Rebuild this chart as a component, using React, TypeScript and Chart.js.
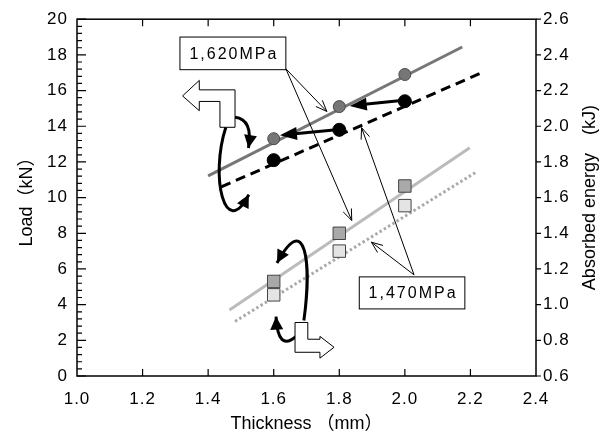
import React, { useEffect, useRef } from "react";
import { Chart, registerables } from "chart.js";

Chart.register(...registerables);

const FONT = "'Liberation Sans', Arial, 'Noto Sans CJK JP', sans-serif";

// ---- data ----
const thicknessMm = [1.6, 1.8, 2.0];
const load1620 = [13.3, 15.1, 16.9];
const load1470 = [12.1, 13.8, 15.4];
const energy1620 = [1.13, 1.4, 1.665];
const energy1470 = [1.055, 1.3, 1.555];

// trend lines (x ends / y ends)
const trendLoad1620X = [1.4, 2.175];
const trendLoad1620Y = [11.22, 18.44];
const trendLoad1470X = [1.44, 2.24];
const trendLoad1470Y = [10.6, 17.05];
const trendEnergy1620X = [1.465, 2.198];
const trendEnergy1620Y = [0.97, 1.88];
const trendEnergy1470X = [1.482, 2.215];
const trendEnergy1470Y = [0.906, 1.74];

// axes
const xMin = 1.0, xMax = 2.4, xStep = 0.2;
const loadMin = 0, loadMax = 20, loadStep = 2;
const energyMin = 0.6, energyMax = 2.6, energyStep = 0.2;

const xTitle = "Thickness （mm）";
const loadTitle = "Load（kN）";
const energyTitle = "Absorbed energy　(kJ)";

// ---- annotations (in thickness / load units) ----
const label1620 = "1,620MPa";
const label1620Box = [1.314, 19.0, 1.637, 17.17];
const label1470 = "1,470MPa";
const label1470Box = [1.861, 5.556, 2.183, 3.76];

const thinArrows = [
  [[1.637, 17.22], [1.762, 14.83]],
  [[1.637, 17.22], [1.838, 8.72]],
  [[2.028, 5.67], [1.868, 13.92]],
  [[2.028, 5.67], [1.898, 7.5]],
];
const boldArrows = [
  [[1.997, 15.46], [1.832, 15.14]],
  [[1.799, 13.82], [1.619, 13.5]],
];
const curvedArrows = [
  [[1.482, 14.5], [1.537, 14.39], [1.523, 12.78]],
  [[1.454, 13.94], [1.405, 11.17], [1.451, 7.56], [1.524, 10.17]],
  [[1.692, 3.11], [1.716, 6.33], [1.698, 9.33], [1.61, 6.33]],
  [[1.668, 2.22], [1.613, 1.33], [1.607, 3.33]],
];
const blockArrowLeft = [
  [1.322, 15.7], [1.373, 16.57], [1.373, 16.04], [1.482, 16.04], [1.482, 13.94],
  [1.436, 13.94], [1.436, 15.39], [1.373, 15.39], [1.373, 14.87],
];
const blockArrowRight = [
  [1.665, 3.0], [1.704, 3.0], [1.704, 2.06], [1.741, 2.06], [1.741, 2.22],
  [1.784, 1.61], [1.741, 1.0], [1.741, 1.33], [1.665, 1.33],
];

const pts = (ys: number[]) => thicknessMm.map((x, i) => ({ x, y: ys[i] }));
const seg = (xs: number[], ys: number[]) => xs.map((x, i) => ({ x, y: ys[i] }));

function filledHead(ctx: CanvasRenderingContext2D, from: number[], tip: number[], L: number, W: number) {
  const dx = tip[0] - from[0], dy = tip[1] - from[1];
  const len = Math.hypot(dx, dy) || 1;
  const ux = dx / len, uy = dy / len;
  const bx = tip[0] - ux * L, by = tip[1] - uy * L;
  ctx.beginPath();
  ctx.moveTo(tip[0], tip[1]);
  ctx.lineTo(bx - uy * W, by + ux * W);
  ctx.lineTo(bx + uy * W, by - ux * W);
  ctx.closePath();
  ctx.fill();
}

const decoPlugin = {
  id: "deco",
  beforeDraw(chart: any) {
    chart.ctx.letterSpacing = "1px";
  },
  afterDraw(chart: any) {
    const ctx: CanvasRenderingContext2D = chart.ctx;
    const xs = chart.scales.x, ys = chart.scales.y, y1 = chart.scales.y1;
    const a = chart.chartArea;
    const P = (p: number[]) => [xs.getPixelForValue(p[0]), ys.getPixelForValue(p[1])];
    ctx.save();
    (ctx as any).letterSpacing = "0px";
    ctx.strokeStyle = "#000";
    ctx.fillStyle = "#000";

    // frame
    ctx.lineWidth = 1.5;
    ctx.strokeRect(a.left, a.top, a.right - a.left, a.bottom - a.top);

    // tick marks
    ctx.lineWidth = 1.2;
    ctx.beginPath();
    xs.ticks.forEach((t: any) => {
      if (t.value <= xMin + 1e-6 || t.value >= xMax - 1e-6) return;
      const px = xs.getPixelForValue(t.value);
      ctx.moveTo(px, a.bottom); ctx.lineTo(px, a.bottom - 7);
      ctx.moveTo(px, a.top); ctx.lineTo(px, a.top + 7);
    });
    for (let i = 0; i <= 50; i++) {
      const v = i * 0.4;
      const py = ys.getPixelForValue(v);
      const len = i % 5 === 0 ? 9 : 5;
      ctx.moveTo(a.left, py); ctx.lineTo(a.left + len, py);
    }
    y1.ticks.forEach((t: any) => {
      const py = y1.getPixelForValue(t.value);
      ctx.moveTo(a.right, py); ctx.lineTo(a.right + 5, py);
    });
    ctx.stroke();

    // axis titles
    ctx.font = `18px ${FONT}`;
    ctx.textAlign = "center";
    ctx.textBaseline = "middle";
    const midY = (a.top + a.bottom) / 2;
    ctx.fillText(xTitle, (a.left + a.right) / 2, 424);
    ctx.save(); ctx.translate(27, midY); ctx.rotate(-Math.PI / 2); ctx.fillText(loadTitle, 0, 0); ctx.restore();
    ctx.save(); ctx.translate(590, midY); ctx.rotate(-Math.PI / 2); ctx.fillText(energyTitle, 0, 0); ctx.restore();

    // thin arrows
    ctx.lineWidth = 1;
    thinArrows.forEach(([s, e]) => {
      const p0 = P(s), p1 = P(e);
      ctx.beginPath(); ctx.moveTo(p0[0], p0[1]); ctx.lineTo(p1[0], p1[1]); ctx.stroke();
      const ang = Math.atan2(p1[1] - p0[1], p1[0] - p0[0]);
      ctx.beginPath();
      for (const s2 of [-1, 1]) {
        ctx.moveTo(p1[0], p1[1]);
        ctx.lineTo(p1[0] - 12 * Math.cos(ang + s2 * 0.38), p1[1] - 12 * Math.sin(ang + s2 * 0.38));
      }
      ctx.stroke();
    });

    // bold arrows
    ctx.lineWidth = 3;
    boldArrows.forEach(([s, e]) => {
      const p0 = P(s), p1 = P(e);
      const dx = p1[0] - p0[0], dy = p1[1] - p0[1];
      const l = Math.hypot(dx, dy);
      ctx.beginPath(); ctx.moveTo(p0[0], p0[1]);
      ctx.lineTo(p1[0] - dx / l * 10, p1[1] - dy / l * 10); ctx.stroke();
      filledHead(ctx, p0, p1, 17, 6.5);
    });

    // curved arrows
    curvedArrows.forEach((c) => {
      const q = c.map(P);
      ctx.beginPath();
      ctx.moveTo(q[0][0], q[0][1]);
      if (q.length === 3) ctx.quadraticCurveTo(q[1][0], q[1][1], q[2][0], q[2][1]);
      else ctx.bezierCurveTo(q[1][0], q[1][1], q[2][0], q[2][1], q[3][0], q[3][1]);
      ctx.stroke();
      filledHead(ctx, q[q.length - 2], q[q.length - 1], 13, 6.5);
    });

    // block arrows
    ctx.lineWidth = 1;
    [blockArrowLeft, blockArrowRight].forEach((poly) => {
      ctx.beginPath();
      poly.map(P).forEach((p, i) => (i ? ctx.lineTo(p[0], p[1]) : ctx.moveTo(p[0], p[1])));
      ctx.closePath();
      ctx.fillStyle = "#fff"; ctx.fill();
      ctx.strokeStyle = "#000"; ctx.stroke();
    });

    // labelled boxes
    [[label1620, label1620Box], [label1470, label1470Box]].forEach(([txt, box]: any) => {
      const p0 = P([box[0], box[1]]), p1 = P([box[2], box[3]]);
      ctx.fillStyle = "#fff";
      ctx.fillRect(p0[0], p0[1], p1[0] - p0[0], p1[1] - p0[1]);
      ctx.strokeStyle = "#000"; ctx.lineWidth = 1;
      ctx.strokeRect(p0[0], p0[1], p1[0] - p0[0], p1[1] - p0[1]);
      ctx.fillStyle = "#000";
      ctx.font = `16px ${FONT}`;
      (ctx as any).letterSpacing = "2px";
      ctx.textAlign = "center"; ctx.textBaseline = "middle";
      ctx.fillText(txt, (p0[0] + p1[0]) / 2 + 1, (p0[1] + p1[1]) / 2 + 1);
      (ctx as any).letterSpacing = "0px";
    });
    ctx.restore();
  },
};

export default function App() {
  const ref = useRef<HTMLCanvasElement>(null);
  useEffect(() => {
    const tickFont = { family: FONT, size: 17 };
    const chart = new Chart(ref.current!, {
      type: "scatter",
      data: {
        datasets: [
          { type: "scatter", data: pts(load1620), yAxisID: "y", pointStyle: "circle", pointRadius: 6, backgroundColor: "#767676", borderColor: "#4a4a4a", borderWidth: 1, showLine: false, order: 0 },
          { type: "scatter", data: pts(load1470), yAxisID: "y", pointStyle: "circle", pointRadius: 6.5, backgroundColor: "#000", borderColor: "#000", borderWidth: 1, showLine: false, order: 0 },
          { type: "scatter", data: pts(energy1620), yAxisID: "y1", pointStyle: "rect", pointRadius: 8.8, backgroundColor: "#a9a9a9", borderColor: "#444", borderWidth: 1, showLine: false, order: 0 },
          { type: "scatter", data: pts(energy1470), yAxisID: "y1", pointStyle: "rect", pointRadius: 8.8, backgroundColor: "#e4e4e4", borderColor: "#444", borderWidth: 1, showLine: false, order: 0 },
          { type: "line", data: seg(trendLoad1620X, trendLoad1620Y), yAxisID: "y", borderColor: "#777", borderWidth: 3, pointRadius: 0, showLine: true, fill: false, order: 1 },
          { type: "line", data: seg(trendLoad1470X, trendLoad1470Y), yAxisID: "y", borderColor: "#000", borderWidth: 3, borderDash: [10, 6], pointRadius: 0, showLine: true, fill: false, order: 1 },
          { type: "line", data: seg(trendEnergy1620X, trendEnergy1620Y), yAxisID: "y1", borderColor: "#bbb", borderWidth: 3, pointRadius: 0, showLine: true, fill: false, order: 1 },
          { type: "line", data: seg(trendEnergy1470X, trendEnergy1470Y), yAxisID: "y1", borderColor: "#aaa", borderWidth: 3, borderDash: [2.5, 2.5], pointRadius: 0, showLine: true, fill: false, order: 1 },
        ] as any,
      },
      options: {
        responsive: false,
        animation: false,
        events: [],
        layout: { padding: { top: 16, left: 0, right: 0, bottom: 0 } },
        plugins: { legend: { display: false }, tooltip: { enabled: false } },
        scales: {
          x: {
            type: "linear", min: xMin, max: xMax,
            grid: { display: false, drawTicks: false }, border: { display: false },
            ticks: { stepSize: xStep, font: tickFont, color: "#000", padding: 13, callback: (v: any) => Number(v).toFixed(1), maxRotation: 0, autoSkip: false },
            afterFit: (s: any) => { s.height = 59; },
          },
          y: {
            type: "linear", position: "left", min: loadMin, max: loadMax,
            grid: { display: false, drawTicks: false }, border: { display: false },
            ticks: { stepSize: loadStep, font: tickFont, color: "#000", padding: 9, autoSkip: false },
            afterFit: (s: any) => { s.width = 77; },
          },
          y1: {
            type: "linear", position: "right", min: energyMin, max: energyMax,
            grid: { display: false, drawTicks: false }, border: { display: false },
            ticks: { stepSize: energyStep, font: tickFont, color: "#000", padding: 7, autoSkip: false, callback: (v: any) => Number(v).toFixed(1) },
            afterFit: (s: any) => { s.width = 71; },
          },
        },
      } as any,
      plugins: [decoPlugin],
    });
    return () => chart.destroy();
  }, []);
  return (
    <div style={{ position: "fixed", left: 0, top: 0, width: 607, height: 435, background: "#fff" }}>
      <canvas ref={ref} width={607} height={435} style={{ display: "block", width: 607, height: 435 }} />
    </div>
  );
}
